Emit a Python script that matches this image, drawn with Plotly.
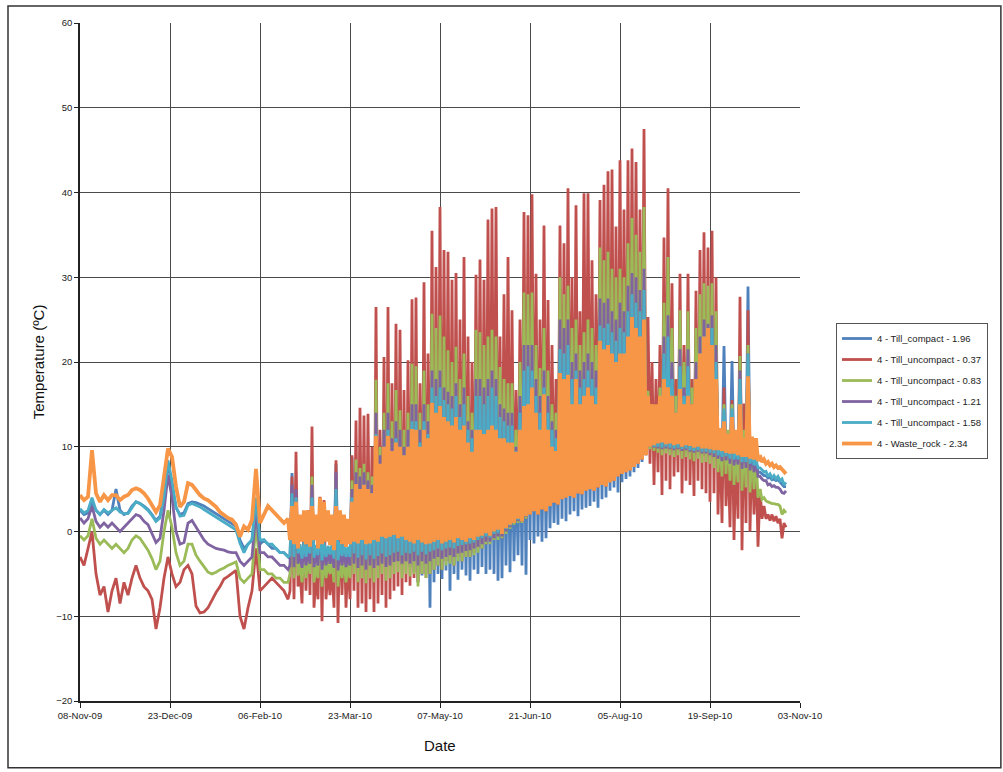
import pandas as pd
import plotly.graph_objects as go

# ---------------- data ----------------
start_date = "2009-11-08"
series_names = [
    "4 - Till_compact - 1.96",
    "4 - Till_uncompact - 0.37",
    "4 - Till_uncompact - 0.83",
    "4 - Till_uncompact - 1.21",
    "4 - Till_uncompact - 1.58",
    "4 - Waste_rock - 2.34",
]
series_colors = ["#4F81BD", "#C0504D", "#9BBB59", "#8064A2", "#4BACC6", "#F79646"]
tick_dates = ["2009-11-08", "2009-12-23", "2010-02-06", "2010-03-23", "2010-05-07",
              "2010-06-21", "2010-08-05", "2010-09-19", "2010-11-03"]
y_ticks = [-20, -10, 0, 10, 20, 30, 40, 50, 60]

# winter part: one reading every 2 days, days 0..104
winter_days = list(range(0, 105, 2))
blue_winter = [2.5, 2.0, 2.2, 3.5, 2.5, 2.0, 2.5, 2.0, 2.5, 5.0,
               2.5, 2.0, 2.2, 3.0, 3.5, 3.3, 3.0, 2.6, 2.0, 1.3,
               1.8, 4.5, 8.0, 5.5, 2.8, 2.0, 2.2, 3.3, 3.5, 3.4,
               3.2, 3.0, 2.7, 2.4, 2.1, 1.8, 1.5, 1.2, 0.9, 0.6,
               -1.0, -2.0, -1.5, -1.0, 3.5, -1.5, -1.0, -1.5, -2.0, -2.0,
               -2.5, -2.5, -3.0]
red_winter = [-3.0, -4.0, -2.0, 0.0, -5.0, -7.5, -6.5, -9.5, -7.0, -5.5,
              -8.5, -6.0, -7.5, -5.5, -4.0, -5.5, -6.5, -7.0, -8.0, -11.5,
              -9.0, -5.5, -3.0, -5.0, -6.5, -6.0, -4.5, -4.0, -5.0, -8.8,
              -9.6, -9.5, -9.0, -8.0, -7.2, -6.5, -5.6, -5.3, -5.0, -4.6,
              -10.0, -11.5, -9.0, -7.0, -2.0, -7.0, -6.5, -6.0, -5.5, -6.0,
              -6.5, -7.0, -8.0]
green_winter = [-0.5, -1.0, -0.5, 1.5, -0.8, -1.5, -1.0, -1.5, -2.0, -1.5,
                -2.0, -2.5, -2.0, -1.0, -0.5, -0.8, -1.5, -2.2, -3.2, -4.5,
                -3.5, 0.0, 2.5, 0.5, -2.5, -4.0, -3.5, -1.5, -1.5, -2.8,
                -3.5, -4.2, -4.8, -5.0, -4.8, -4.5, -4.3, -4.0, -3.8, -3.6,
                -5.5, -6.0, -5.5, -5.0, 1.0, -4.5, -4.5, -5.0, -5.0, -5.5,
                -5.5, -6.0, -6.0]
purple_winter = [1.6, 1.0, 1.5, 3.0, 1.2, 0.5, 1.0, 0.5, 1.0, 0.5,
                 0.0, 0.5, 1.0, 1.5, 2.0, 1.8, 1.2, 0.8, -0.2, -1.3,
                 -0.8, 2.5, 6.7, 4.0, 0.0, -1.5, -1.3, 1.0, 1.3, 0.5,
                 -0.3, -1.0, -1.5, -1.8, -2.0, -2.1, -2.2, -2.4, -2.5, -2.5,
                 -3.5, -4.0, -3.5, -3.0, 2.5, -2.5, -2.5, -3.0, -3.0, -3.5,
                 -4.0, -4.0, -4.5]
cyan_winter = [2.7, 2.2, 2.5, 4.0, 2.5, 2.0, 2.6, 2.2, 2.5, 2.8,
               2.3, 2.1, 2.1, 2.8, 3.5, 3.3, 2.9, 2.5, 1.9, 1.2,
               1.6, 4.0, 8.4, 6.0, 2.9, 1.8, 1.9, 3.1, 3.3, 3.1,
               2.9, 2.6, 2.3, 2.0, 1.7, 1.4, 1.0, 0.8, 0.5, 0.2,
               -1.4, -2.5, -1.5, -1.0, 4.0, -1.0, -1.0, -1.5, -1.5, -2.0,
               -2.5, -2.5, -3.0]
orange_winter = [4.3, 3.7, 4.1, 9.6, 4.5, 3.5, 4.3, 3.7, 4.3, 4.3,
                 3.7, 4.1, 4.3, 4.9, 5.1, 4.9, 4.5, 3.9, 3.1, 2.3,
                 3.1, 6.1, 9.8, 8.8, 5.3, 2.9, 3.5, 5.7, 5.5, 4.9,
                 4.3, 3.9, 3.7, 3.3, 2.9, 2.3, 1.9, 1.6, 1.4, 0.8,
                 -0.6, 0.6, 0.2, 1.4, 7.4, 1.0, 2.0, 3.0, 2.5, 2.0,
                 1.5, 1.0, 1.5]

# spring-autumn part: daily lows (days 105,107,...,353) and highs (106,...,352)
low_days = list(range(105, 354, 2))
high_days = list(range(106, 353, 2))

orange_low = [-1.0, -1.5, -2.0, -1.2, -1.5, -1.8, -1.0, -2.0, -1.5, -1.2,
              -1.6, -2.2, -1.0, -1.5, -1.8, -1.5, -1.2, -1.4, -1.0, -1.5,
              -1.4, -1.0, -1.2, -0.6, -0.8, -0.6, -0.4, -0.8, -0.6, -1.0,
              -1.2, -1.4, -1.0, -1.3, -1.5, -1.4, -1.2, -1.0, -1.4, -1.2,
              -1.0, -1.3, -0.8, -1.0, -1.2, -0.8, -1.0, -0.6, -0.5, -0.2,
              -0.5, 0.0, 0.2, -0.3, 0.4, 0.8, 1.0, 1.5, 1.2, 1.8,
              2.0, 2.4, 2.0, 2.6, 2.4, 3.0, 3.4, 3.2, 3.8, 4.0,
              4.2, 4.0, 4.5, 4.4, 4.8, 5.0, 4.8, 5.2, 5.5, 5.3,
              5.8, 6.0, 6.5, 6.8, 7.0, 7.2, 7.6, 8.0, 8.5, 9.0,
              10.0, 10.2, 10.4, 10.5, 10.3, 10.4, 10.2, 10.3, 10.0, 10.2,
              10.1, 9.9, 10.0, 9.8, 9.8, 9.7, 9.6, 9.6, 9.5, 9.3,
              9.2, 9.2, 9.0, 8.8, 8.8, 8.6, 8.5, 8.3, 8.2, 8.0,
              7.8, 7.6, 7.5, 7.3, 6.8]
orange_high = [3.0, 3.5, 2.0, 2.5, 2.5, 3.0, 2.0, 4.0, 3.5, 2.5,
               2.0, 3.0, 2.5, 2.0, 1.5, 3.5, 5.6, 5.0, 5.5, 5.0,
               4.5, 11.3, 8.0, 10.0, 11.3, 9.5, 10.5, 10.0, 9.0, 10.0,
               12.1, 12.0, 10.0, 12.0, 11.0, 15.2, 14.0, 14.8, 13.5, 13.0,
               12.5, 13.5, 12.0, 12.5, 10.5, 9.4, 12.0, 12.0, 11.5, 12.0,
               12.5, 12.0, 11.0, 11.0, 10.5, 10.5, 9.4, 12.0, 14.8, 15.0,
               17.0, 14.0, 12.0, 16.2, 12.0, 10.0, 9.5, 18.7, 18.0, 18.5,
               15.0, 18.0, 15.0, 16.0, 17.0, 16.0, 15.0, 22.5, 21.5, 22.0,
               21.0, 20.0, 21.0, 21.0, 23.0, 25.3, 24.0, 23.0, 25.0, 16.0,
               15.0, 15.0, 16.0, 18.0, 17.0, 16.0, 14.0, 16.8, 15.0, 16.0,
               15.0, 18.0, 21.0, 23.0, 24.0, 22.0, 18.0, 12.2, 13.0, 11.5,
               13.5, 12.0, 15.0, 11.0, 18.3, 11.2, 11.0, 9.0, 8.5, 8.2,
               8.0, 7.8, 7.6, 7.0]

red_low = [-7.0, -8.0, -6.5, -8.5, -7.0, -7.5, -9.0, -8.0, -10.6, -8.0,
           -7.5, -9.0, -10.8, -7.5, -9.0, -8.0, -7.0, -9.0, -8.5, -9.5,
           -8.0, -9.5, -8.5, -7.5, -9.0, -8.0, -7.0, -6.5, -7.5, -6.0,
           -6.4, -5.5, -6.0, -5.0, -5.5, -5.0, -4.5, -4.0, -4.5, -3.5,
           -3.5, -4.0, -3.0, -3.5, -3.0, -3.0, -2.5, -2.0, -2.0, -1.5,
           -1.0, -1.0, -0.5, -0.8, 0.0, 0.5, 1.0, 1.2, 1.0, 1.5,
           2.0, 2.4, 2.0, 2.6, 2.4, 3.0, 3.4, 3.2, 3.8, 4.0,
           4.2, 4.0, 4.5, 4.4, 4.8, 5.0, 4.8, 5.2, 5.5, 5.3,
           5.8, 6.0, 6.5, 6.8, 7.0, 7.2, 7.6, 8.0, 8.5, 9.0,
           8.0, 5.5, 7.0, 4.3, 6.0, 5.0, 6.5, 7.0, 4.5, 6.0,
           5.5, 4.2, 6.0, 5.0, 4.5, 3.5, 4.5, 2.0, 1.0, 3.0,
           0.5, -1.0, 1.5, -2.2, 1.0, 0.0, 2.0, -1.8, 1.5, 1.5,
           1.3, 1.2, 1.0, -0.8, 0.5]
red_high = [6.5, 9.4, -4.5, 1.9, 2.5, 12.4, -5.0, 4.1, 3.7, -4.5,
            -4.0, 8.4, 2.0, 1.0, -3.0, 9.0, 13.1, 14.6, 13.7, 13.9,
            10.0, 26.5, 12.0, 20.6, 26.5, 17.5, 24.5, 23.8, 16.7, 20.2,
            27.4, 27.6, 17.5, 29.4, 21.0, 35.5, 31.2, 38.3, 33.2, 33.0,
            29.7, 30.5, 25.0, 32.4, 23.0, 20.0, 30.3, 32.1, 29.7, 36.8,
            38.1, 38.3, 23.0, 28.0, 32.4, 26.1, 16.7, 25.0, 37.7, 37.3,
            39.8, 30.4, 25.0, 36.1, 27.3, 22.0, 18.0, 36.1, 34.0, 40.5,
            30.0, 38.5, 26.0, 39.9, 39.9, 32.0, 28.0, 39.1, 40.9, 42.5,
            42.7, 36.0, 43.8, 38.0, 43.8, 45.2, 43.6, 38.0, 47.5, 25.3,
            20.0, 18.0, 22.0, 34.7, 40.5, 29.3, 18.0, 30.4, 22.0, 30.4,
            18.0, 28.4, 33.2, 35.3, 33.5, 35.5, 30.0, 12.0, 17.0, 10.0,
            15.5, 10.0, 27.7, 15.1, 26.1, 11.0, 9.5, 5.0, 3.0, 2.0,
            2.0, 1.8, 1.5, 1.0]

green_low = [-5.0, -5.5, -5.2, -6.0, -5.5, -5.0, -6.0, -5.5, -6.5, -5.5,
             -5.0, -6.0, -6.5, -5.5, -6.0, -5.5, -5.0, -6.0, -5.5, -6.1,
             -5.5, -6.0, -5.5, -5.0, -5.8, -5.5, -5.0, -4.8, -5.5, -5.0,
             -5.3, -5.0, -6.5, -5.0, -5.5, -5.0, -4.5, -4.0, -4.5, -4.0,
             -3.8, -4.0, -3.5, -3.5, -3.0, -3.0, -2.8, -2.5, -2.0, -1.5,
             -1.5, -1.0, -1.0, -0.8, -0.3, 0.3, 0.8, 1.0, 1.0, 1.5,
             2.2, 2.6, 2.2, 2.8, 2.6, 3.2, 3.6, 3.4, 4.0, 4.2,
             4.4, 4.2, 4.7, 4.6, 5.0, 5.2, 5.0, 5.4, 5.7, 5.5,
             6.0, 6.2, 6.7, 7.0, 7.2, 7.4, 7.8, 8.2, 8.7, 9.2,
             9.7, 9.5, 9.3, 9.0, 9.2, 9.0, 8.8, 9.0, 8.6, 8.8,
             8.5, 8.3, 8.6, 8.1, 8.2, 8.0, 7.5, 7.0, 6.5, 6.8,
             6.0, 5.5, 5.8, 4.8, 5.2, 4.6, 5.0, 4.0, 3.8, 3.6,
             3.4, 3.3, 3.2, 2.0, 2.2]
green_high = [3.0, 4.0, -3.5, -3.0, -3.2, 6.5, -3.8, 1.0, -3.0, -3.6,
              -3.5, 6.0, -3.0, -3.2, -3.8, 6.0, 8.5, 7.5, 8.0, 7.0,
              6.5, 17.9, 10.0, 14.0, 17.5, 13.0, 16.7, 14.3, 12.0, 14.0,
              19.8, 19.5, 14.0, 19.0, 15.0, 25.7, 24.0, 25.5, 23.0, 21.4,
              20.0, 21.8, 18.0, 21.0, 16.0, 14.0, 23.8, 23.5, 22.0, 23.0,
              23.8, 23.0, 19.4, 18.0, 17.5, 17.5, 12.0, 20.0, 28.2, 28.0,
              28.2, 22.0, 19.3, 24.0, 19.0, 15.0, 14.0, 30.0, 28.0, 29.0,
              24.0, 25.0, 22.0, 23.5, 25.0, 24.0, 22.0, 33.5, 32.0, 33.0,
              31.0, 30.0, 31.0, 30.0, 34.0, 37.0, 35.0, 33.0, 38.3, 16.6,
              15.0, 14.0, 17.0, 27.0, 32.4, 24.0, 16.0, 26.1, 20.0, 26.0,
              17.0, 24.0, 28.0, 29.3, 29.0, 29.3, 26.0, 11.0, 15.0, 12.0,
              15.0, 10.0, 20.7, 12.0, 22.0, 10.0, 9.0, 5.0, 4.0, 3.5,
              3.3, 3.2, 3.0, 2.5]

purple_low = [-4.0, -4.2, -3.8, -4.3, -4.0, -3.8, -4.2, -4.0, -4.5, -4.0,
              -3.8, -4.3, -4.6, -4.0, -4.2, -4.0, -3.8, -4.3, -4.0, -4.5,
              -4.0, -4.3, -4.0, -3.8, -4.2, -4.0, -3.6, -3.5, -3.8, -3.5,
              -3.8, -3.5, -4.0, -3.5, -3.8, -3.5, -3.2, -3.0, -3.2, -3.0,
              -2.8, -3.0, -2.6, -2.5, -2.3, -2.2, -2.0, -1.8, -1.5, -1.2,
              -1.2, -0.8, -0.6, -0.6, 0.0, 0.5, 1.0, 1.2, 1.2, 1.7,
              2.2, 2.6, 2.2, 2.8, 2.6, 3.2, 3.6, 3.4, 4.0, 4.2,
              4.4, 4.2, 4.7, 4.6, 5.0, 5.2, 5.0, 5.4, 5.7, 5.5,
              6.0, 6.2, 6.7, 7.0, 7.2, 7.4, 7.8, 8.2, 8.7, 9.2,
              10.0, 9.9, 9.8, 9.7, 9.8, 9.7, 9.6, 9.7, 9.5, 9.6,
              9.4, 9.3, 9.4, 9.2, 9.2, 9.0, 8.8, 8.6, 8.3, 8.4,
              8.0, 7.8, 7.9, 7.4, 7.5, 7.2, 7.0, 6.5, 6.2, 6.0,
              5.6, 5.4, 5.2, 4.6, 4.8]
purple_high = [5.5, 5.0, -2.5, -2.0, -2.2, 5.5, -2.6, 0.5, -2.0, -2.5,
               -2.5, 7.0, -2.0, -2.2, -2.6, 5.0, 7.0, 6.5, 7.0, 6.0,
               5.5, 14.0, 9.0, 12.0, 14.0, 11.0, 13.0, 12.0, 10.0, 12.0,
               15.0, 15.0, 12.0, 15.0, 13.0, 19.0, 18.0, 19.0, 17.0, 16.5,
               16.0, 17.5, 15.0, 17.0, 13.0, 12.0, 18.0, 18.0, 17.0, 18.0,
               19.0, 18.0, 15.0, 14.5, 14.0, 14.0, 10.0, 16.0, 22.0, 22.0,
               22.0, 18.0, 16.0, 19.0, 16.0, 13.0, 12.0, 25.0, 24.0, 25.0,
               20.0, 21.0, 19.0, 20.0, 21.0, 20.0, 19.0, 27.5, 27.0, 27.5,
               26.0, 25.0, 27.0, 26.0, 29.0, 30.5, 30.0, 28.5, 31.0, 14.5,
               13.5, 13.0, 15.0, 23.0, 25.5, 20.0, 14.0, 21.5, 17.0, 21.5,
               15.0, 20.0, 23.0, 25.0, 24.5, 25.5, 22.0, 10.5, 14.0, 11.5,
               14.0, 10.0, 19.0, 11.0, 21.0, 9.5, 8.5, 6.5, 6.0, 5.5,
               5.3, 5.2, 5.0, 4.5]

cyan_low = [-2.8, -3.0, -2.6, -3.2, -3.0, -2.6, -3.1, -2.8, -3.4, -3.0,
            -2.7, -3.2, -3.4, -2.9, -3.0, -3.0, -2.6, -3.1, -2.8, -3.3,
            -2.8, -3.2, -2.9, -2.6, -3.0, -2.8, -2.5, -2.4, -2.8, -2.5,
            -2.6, -2.4, -2.8, -2.4, -2.7, -2.4, -2.2, -2.0, -2.2, -2.0,
            -1.9, -2.0, -1.7, -1.6, -1.5, -1.4, -1.3, -1.0, -0.8, -0.6,
            -0.7, -0.3, -0.2, -0.3, 0.3, 0.7, 1.1, 1.4, 1.3, 1.8,
            2.2, 2.6, 2.2, 2.8, 2.6, 3.2, 3.6, 3.4, 4.0, 4.2,
            4.4, 4.2, 4.7, 4.6, 5.0, 5.2, 5.0, 5.4, 5.7, 5.5,
            6.0, 6.2, 6.7, 7.0, 7.2, 7.4, 7.8, 8.2, 8.7, 9.2,
            10.1, 10.0, 10.0, 9.9, 10.0, 9.9, 9.8, 9.9, 9.7, 9.8,
            9.6, 9.5, 9.6, 9.4, 9.4, 9.3, 9.2, 9.0, 8.8, 8.9,
            8.6, 8.5, 8.5, 8.2, 8.2, 8.0, 7.8, 7.5, 7.3, 7.1,
            6.8, 6.6, 6.5, 6.2, 5.8]
cyan_high = [4.5, 4.0, -1.5, -1.2, -1.4, 4.0, -1.6, 0.0, -1.3, -1.7,
             -1.5, 5.0, -1.2, -1.4, -1.8, 4.0, 5.5, 5.0, 5.5, 5.0,
             4.5, 11.5, 7.5, 10.0, 12.0, 9.5, 11.0, 10.0, 9.0, 10.0,
             13.0, 13.0, 10.5, 13.0, 11.5, 17.0, 16.0, 17.0, 15.5, 15.0,
             14.5, 16.0, 13.5, 15.0, 12.0, 11.0, 16.0, 16.0, 15.0, 16.0,
             17.0, 16.0, 13.5, 13.0, 12.5, 12.5, 9.5, 14.0, 19.0, 19.5,
             19.0, 16.0, 14.0, 17.0, 14.0, 12.0, 11.0, 21.5, 21.0, 22.0,
             18.0, 19.0, 17.0, 18.0, 19.0, 18.0, 17.0, 24.3, 24.0, 24.5,
             23.5, 22.5, 24.0, 23.5, 26.0, 28.0, 27.0, 26.0, 28.5, 13.5,
             13.0, 12.5, 14.0, 21.0, 23.0, 18.0, 13.0, 19.5, 16.0, 19.5,
             14.0, 18.0, 21.0, 23.0, 22.5, 24.0, 20.0, 10.5, 14.5, 11.0,
             14.5, 10.0, 18.0, 10.5, 21.0, 9.5, 8.5, 7.5, 7.0, 6.5,
             6.3, 6.2, 6.0, 5.5]

blue_low = [-3.2, -3.5, -3.0, -3.6, -3.4, -3.0, -3.6, -3.2, -3.8, -3.4,
            -3.1, -3.6, -3.8, -3.3, -3.4, -3.4, -3.0, -3.6, -3.2, -3.8,
            -3.2, -3.8, -3.5, -3.2, -4.0, -3.6, -3.4, -3.5, -4.0, -3.6,
            -4.2, -4.8, -6.0, -5.2, -5.0, -9.0, -6.0, -5.0, -5.6, -4.6,
            -7.0, -5.0, -5.7, -4.5, -5.2, -5.8, -4.5, -5.0, -4.2, -5.0,
            -4.5, -5.0, -5.8, -5.5, -4.0, -4.8, -3.5, -2.8, -4.0, -5.1,
            -1.0, -1.4, -0.6, -1.2, -0.8, 0.4, 1.0, 0.8, 1.5, 1.2,
            2.0, 2.4, 1.8, 2.6, 2.8, 3.0, 3.5, 2.8, 3.8, 4.0,
            4.8, 5.2, 4.6, 5.8, 6.2, 6.5, 7.0, 7.5, 8.2, 9.0,
            9.8, 9.6, 9.7, 9.5, 9.6, 9.4, 9.3, 9.4, 9.2, 9.3,
            9.1, 9.0, 9.1, 8.9, 8.9, 8.7, 8.6, 8.4, 8.2, 8.3,
            8.0, 7.9, 7.9, 7.6, 7.6, 7.4, 7.3, 7.0, 6.8, 6.6,
            6.4, 6.2, 6.1, 5.6, 5.3]
blue_high = [6.9, 3.5, -1.8, -1.5, -1.6, 4.0, -1.8, -0.5, -1.5, -1.9,
             -1.7, 8.0, -1.5, -1.6, -2.0, 8.8, 5.0, 4.5, 5.0, 4.5,
             4.0, 10.5, 7.0, 9.5, 11.0, 9.0, 10.0, 9.5, 8.5, 9.5,
             12.0, 12.0, 10.0, 12.0, 11.0, 16.0, 15.0, 16.0, 15.0, 14.0,
             14.0, 15.0, 13.0, 14.0, 11.5, 10.5, 15.0, 15.0, 14.0, 15.0,
             16.0, 15.0, 13.0, 12.5, 12.0, 12.0, 9.0, 13.0, 18.0, 18.5,
             18.0, 15.0, 13.0, 16.0, 13.0, 11.0, 10.5, 20.5, 20.0, 21.0,
             17.0, 18.0, 16.0, 17.0, 18.0, 17.0, 16.0, 23.0, 23.0, 23.5,
             22.5, 21.5, 23.0, 22.5, 25.0, 27.0, 26.0, 25.0, 27.5, 13.0,
             12.5, 12.0, 13.5, 20.0, 22.0, 17.0, 12.5, 18.5, 15.0, 18.5,
             13.5, 17.0, 20.0, 22.0, 21.5, 23.0, 19.0, 10.5, 21.9, 10.5,
             20.1, 10.0, 20.5, 10.0, 28.9, 9.0, 8.0, 7.0, 6.6, 6.3,
             6.1, 6.0, 5.8, 5.3]

winter_values = [blue_winter, red_winter, green_winter, purple_winter, cyan_winter, orange_winter]
low_values = [blue_low, red_low, green_low, purple_low, cyan_low, orange_low]
high_values = [blue_high, red_high, green_high, purple_high, cyan_high, orange_high]
line_widths = [2.8, 2.8, 2.8, 2.8, 2.8, 3.8]


def build_series(winter, low, high):
    days = list(winter_days)
    vals = list(winter)
    n = min(len(high), len(low) - 1)
    for i in range(n):
        days += [low_days[i], high_days[i]]
        vals += [low[i], high[i]]
    days.append(low_days[n])
    vals.append(low[n])
    m = min(len(days), len(vals))
    dates = pd.Timestamp(start_date) + pd.to_timedelta(days[:m], unit="D")
    return dates, vals[:m]


fig = go.Figure()
for name, color, w, lo, hi, lw in zip(series_names, series_colors, winter_values,
                                      low_values, high_values, line_widths):
    x, y = build_series(w, lo, hi)
    fig.add_trace(go.Scatter(x=x, y=y, mode="lines", name=name, legendgroup=name,
                             line=dict(color=color, width=lw)))

grid_col = "#4a4a4a"
tick_font = dict(family="Liberation Sans Narrow, Liberation Sans, Arial", size=9.5, color="#222")
fig.update_xaxes(type="date", range=[tick_dates[0], tick_dates[-1]], tickvals=tick_dates,
                 tickformat="%d-%b-%y", showgrid=True, gridcolor=grid_col, gridwidth=1,
                 showline=True, linecolor="#222", linewidth=1.5, ticks="outside", ticklen=5,
                 tickcolor="#222", tickfont=tick_font, zeroline=False)
fig.update_yaxes(range=[-20, 60], tickvals=y_ticks, showgrid=True, gridcolor=grid_col, gridwidth=1,
                 showline=True, linecolor="#222", linewidth=1.5, ticks="outside", ticklen=4,
                 tickcolor="#222", tickfont=tick_font, zeroline=False)

fig.update_layout(
    width=1003, height=772,
    margin=dict(l=80, r=203, t=23, b=71),
    paper_bgcolor="white", plot_bgcolor="white",
    showlegend=True,
    legend=dict(x=1.05, y=0.5575, xanchor="left", yanchor="top",
                bordercolor="#555", borderwidth=1, bgcolor="white",
                font=dict(family="Liberation Sans Narrow, Liberation Sans, Arial", size=9.5, color="#222"),
                tracegroupgap=2, itemwidth=30),
    annotations=[
        dict(text="Temperature (ºC)", xref="paper", yref="paper", x=-0.058, y=0.5,
             xanchor="center", yanchor="middle",
             textangle=-90, showarrow=False, font=dict(family="Liberation Sans, Arial", size=15, color="#111")),
        dict(text="Date", xref="paper", yref="paper", x=0.5, y=-0.066,
             xanchor="center", yanchor="middle",
             showarrow=False, font=dict(family="Liberation Sans, Arial", size=15, color="#111")),
    ],
    shapes=[dict(type="rect", xref="paper", yref="paper", x0=-0.1, x1=1.279, y0=-0.0985, y1=1.025,
                 line=dict(color="#333", width=1.5), fillcolor="rgba(0,0,0,0)", layer="below")],
)

fig.write_html("out.html", config={"displayModeBar": False},
               post_script="document.body.style.margin='0px';")
